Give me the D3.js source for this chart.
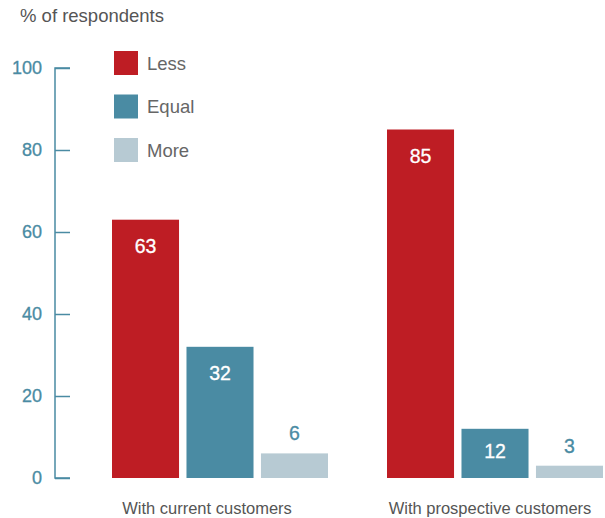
<!DOCTYPE html>
<html>
<head>
<meta charset="utf-8">
<script src="https://cdn.jsdelivr.net/npm/d3@7"></script>
<style>
  html, body { margin: 0; padding: 0; background: #fff; }
  svg { display: block; font-family: "Liberation Sans", Arial, Helvetica, sans-serif; }
</style>
</head>
<body>
<svg id="chart" width="605" height="518"></svg>
<script>
// Survey shares by customer group
const groups = ["With current customers", "With prospective customers"];
const series = ["Less", "Equal", "More"];
const lessValues = [63, 85];
const equalValues = [32, 12];
const moreValues = [6, 3];
const yTicks = [0, 20, 40, 60, 80, 100];
const colors = ["#be1d24", "#4a8ba3", "#b7cad3"];
const labelColors = ["#ffffff", "#ffffff", "#4a8ba3"];

const valuesBySeries = [lessValues, equalValues, moreValues];
const rows = [];
groups.forEach((g, gi) => {
  series.forEach((s, si) => {
    rows.push({ group: g, series: s, si, value: valuesBySeries[si][gi] });
  });
});

const svg = d3.select("#chart");

const y = d3.scaleLinear().domain([0, 100]).range([478, 68]);
const x0 = d3.scaleBand().domain(groups).range([112, 662]);
const x1 = d3.scaleBand().domain(series).range([0, 216]).paddingInner(0.1);

// Title
svg.append("text")
  .attr("x", 20).attr("y", 22)
  .attr("fill", "#555").attr("font-size", 18.5)
  .text("% of respondents");

// Y axis
const axis = svg.append("g")
  .attr("transform", "translate(55,0)")
  .call(d3.axisRight(y).tickValues(yTicks).tickSize(15).tickFormat(""));
axis.select(".domain").attr("stroke", "#4a8ba3").attr("stroke-width", 1.5)
  .attr("d", `M15,${y(100)}H0V${y(0)}H15`);
axis.selectAll(".tick line").attr("stroke", "#4a8ba3").attr("stroke-width", 1.5);

svg.append("g").selectAll("text")
  .data(yTicks).join("text")
  .attr("x", 42).attr("y", d => y(d))
  .attr("dy", "0.36em")
  .attr("text-anchor", "end")
  .attr("fill", "#4a8ba3").attr("font-size", 18)
  .attr("stroke", "#4a8ba3").attr("stroke-width", 0.3)
  .text(d => d);

// Bars
const bars = svg.append("g");
bars.selectAll("rect")
  .data(rows).join("rect")
  .attr("x", d => x0(d.group) + x1(d.series))
  .attr("y", d => y(d.value))
  .attr("width", x1.bandwidth())
  .attr("height", d => y(0) - y(d.value))
  .attr("fill", d => colors[d.si]);

// Value labels: inside the darker bars, above the light ones
bars.selectAll("text")
  .data(rows).join("text")
  .attr("x", d => x0(d.group) + x1(d.series) + x1.bandwidth() / 2)
  .attr("y", d => d.si < 2 ? Math.min(y(d.value) + 33, y(0) - 20) : y(d.value) - 13)
  .attr("text-anchor", "middle")
  .attr("fill", d => labelColors[d.si])
  .attr("stroke", d => labelColors[d.si]).attr("stroke-width", 0.3)
  .attr("font-size", 19.5)
  .text(d => d.value);

// Category labels
const labelShift = [-13, -5];
svg.append("g").selectAll("text")
  .data(groups).join("text")
  .attr("x", (d, i) => x0(d) + 108 + labelShift[i])
  .attr("y", 514)
  .attr("text-anchor", "middle")
  .attr("fill", "#555").attr("font-size", 16.5)
  .text(d => d);

// Legend
const legend = svg.append("g").selectAll("g")
  .data(series).join("g")
  .attr("transform", (d, i) => `translate(114,${51 + i * 43.5})`);
legend.append("rect")
  .attr("width", 24).attr("height", 24)
  .attr("fill", (d, i) => colors[i]);
legend.append("text")
  .attr("x", 33).attr("y", 12).attr("dy", "0.36em")
  .attr("fill", "#666").attr("font-size", 18.5)
  .text(d => d);
</script>
</body>
</html>
